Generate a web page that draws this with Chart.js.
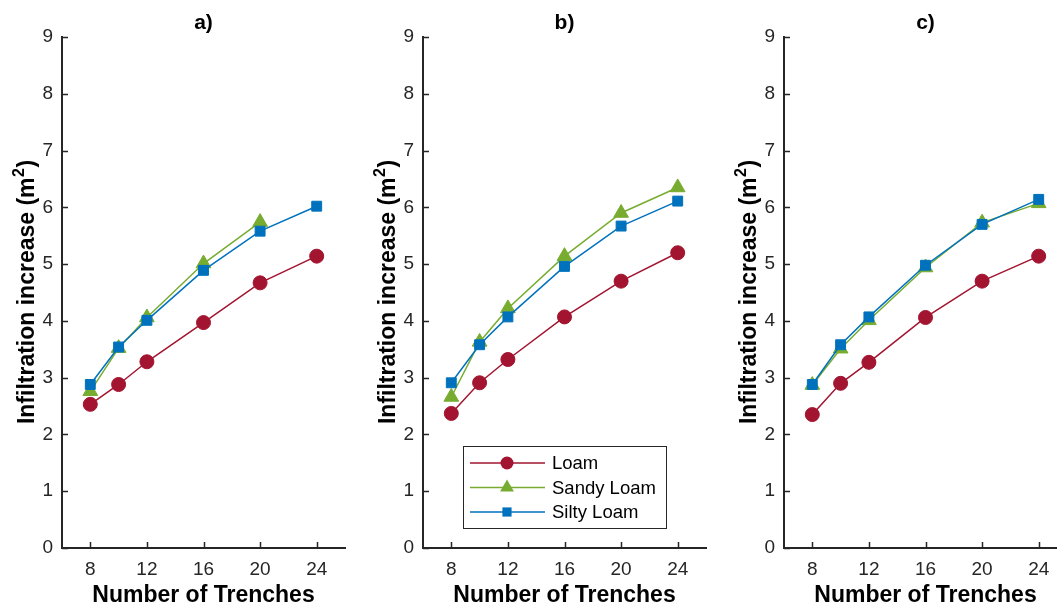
<!DOCTYPE html>
<html>
<head>
<meta charset="utf-8">
<script src="https://cdn.jsdelivr.net/npm/chart.js@4.4.1/dist/chart.umd.min.js"></script>
<style>
html, body { margin: 0; padding: 0; background: #fff; overflow: hidden; width: 1057px; height: 609px; position: relative; }
canvas { position: absolute; top: 0; }
</style>
</head>
<body>
<canvas id="panelA" width="362" height="609" style="left:0px"></canvas>
<canvas id="panelB" width="362" height="609" style="left:361px"></canvas>
<canvas id="panelC" width="362" height="609" style="left:722px"></canvas>
<script>
// number of trenches (x) and tick marks
var trenches = [8, 10, 12, 16, 20, 24];
var xTicks = [8, 12, 16, 20, 24];

// panel a)
var loamA  = [2.53, 2.88, 3.28, 3.97, 4.67, 5.14];
var sandyA = [2.76, 3.52, 4.06, 5.01, 5.74, null];
var siltyA = [2.88, 3.54, 4.01, 4.89, 5.58, 6.02];

// panel b)
var loamB  = [2.37, 2.91, 3.32, 4.07, 4.70, 5.20];
var sandyB = [2.66, 3.63, 4.22, 5.14, 5.90, 6.35];
var siltyB = [2.91, 3.58, 4.07, 4.96, 5.67, 6.11];

// panel c)
var loamC  = [2.35, 2.90, 3.27, 4.06, 4.70, 5.14];
var sandyC = [2.87, 3.51, 4.01, 4.94, 5.73, 6.07];
var siltyC = [2.88, 3.58, 4.07, 4.98, 5.70, 6.14];

var FONT = "'Liberation Sans', Arial, Helvetica, sans-serif";
var AXIS = '#262626';
var LOAM = '#A2142F', SANDY = '#77AC30', SILTY = '#0072BD';

function toPoints(values) {
	var pts = [];
	for (var i = 0; i < trenches.length; i++) {
		if (values[i] !== null) pts.push({x: trenches[i], y: values[i]});
	}
	return pts;
}

function makeDatasets(loam, sandy, silty) {
	return [{
		label: 'Loam',
		data: toPoints(loam),
		borderColor: LOAM, backgroundColor: LOAM,
		borderWidth: 1.5, pointStyle: 'circle', pointRadius: 7,
		pointBorderWidth: 1, order: 2
	}, {
		label: 'Sandy Loam',
		data: toPoints(sandy),
		borderColor: SANDY, backgroundColor: SANDY,
		borderWidth: 1.5, pointStyle: 'triangle', pointRadius: 8.5,
		pointBorderWidth: 1, order: 1
	}, {
		label: 'Silty Loam',
		data: toPoints(silty),
		borderColor: SILTY, backgroundColor: SILTY,
		borderWidth: 1.5, pointStyle: 'rect', pointRadius: 7,
		pointBorderWidth: 1, order: 0
	}];
}

function drawMarker(ctx, style, x, y, r) {
	ctx.beginPath();
	if (style === 'circle') {
		ctx.arc(x, y, r, 0, Math.PI * 2);
	} else if (style === 'triangle') {
		ctx.moveTo(x, y - r);
		ctx.lineTo(x + r * 0.866, y + r / 2);
		ctx.lineTo(x - r * 0.866, y + r / 2);
		ctx.closePath();
	} else {
		var s = r * Math.SQRT1_2;
		ctx.rect(x - s, y - s, 2 * s, 2 * s);
	}
	ctx.fill();
}

// inward ticks, panel title and y label with superscript
var panelDecor = {
	id: 'panelDecor',
	afterDraw: function(chart, args, opts) {
		var ctx = chart.ctx, area = chart.chartArea;
		var xs = chart.scales.x, ys = chart.scales.y;
		ctx.save();
		ctx.strokeStyle = AXIS;
		ctx.lineWidth = 1.5;
		ctx.beginPath();
		xs.ticks.forEach(function(t) {
			var px = Math.round(xs.getPixelForValue(t.value)) + 0.5;
			ctx.moveTo(px, area.bottom);
			ctx.lineTo(px, area.bottom - 6);
		});
		ys.ticks.forEach(function(t) {
			var py = Math.round(ys.getPixelForValue(t.value)) + 0.5;
			ctx.moveTo(area.left, py);
			ctx.lineTo(area.left + 6, py);
		});
		ctx.stroke();

		ctx.fillStyle = '#000';
		ctx.font = 'bold 21px ' + FONT;
		ctx.textAlign = 'center';
		ctx.textBaseline = 'middle';
		ctx.fillText(opts.title, (area.left + area.right) / 2, 23);

		var main = 'Infiltration increase (m', sup = '2', tail = ')';
		ctx.font = 'bold 23px ' + FONT;
		var w1 = ctx.measureText(main).width, w3 = ctx.measureText(tail).width;
		ctx.font = 'bold 16px ' + FONT;
		var w2 = ctx.measureText(sup).width;
		var x0 = -(w1 + w2 + w3) / 2;
		ctx.translate(34, (area.top + area.bottom) / 2);
		ctx.rotate(-Math.PI / 2);
		ctx.textAlign = 'left';
		ctx.textBaseline = 'alphabetic';
		ctx.font = 'bold 23px ' + FONT;
		ctx.fillText(main, x0, 0);
		ctx.font = 'bold 16px ' + FONT;
		ctx.fillText(sup, x0 + w1 + 0.5, -10);
		ctx.font = 'bold 23px ' + FONT;
		ctx.fillText(tail, x0 + w1 + w2 + 1, 0);
		ctx.restore();
	}
};

// boxed legend inside panel b)
var boxLegend = {
	id: 'boxLegend',
	afterDraw: function(chart, args, opts) {
		if (!opts.show) return;
		var ctx = chart.ctx, area = chart.chartArea;
		var x = area.left + 40, y = 446, w = 203, h = 82;
		ctx.save();
		ctx.fillStyle = '#fff';
		ctx.fillRect(x, y, w, h);
		ctx.strokeStyle = AXIS;
		ctx.lineWidth = 1;
		ctx.strokeRect(x + 0.5, y + 0.5, w, h);
		ctx.font = '18.5px ' + FONT;
		ctx.textAlign = 'left';
		ctx.textBaseline = 'middle';
		var sizes = {circle: 6.5, triangle: 8, rect: 6.5};
		chart.data.datasets.forEach(function(ds, i) {
			var ry = y + 17 + i * 24.5;
			ctx.strokeStyle = ds.borderColor;
			ctx.lineWidth = ds.borderWidth;
			ctx.beginPath();
			ctx.moveTo(x + 7, ry);
			ctx.lineTo(x + 82, ry);
			ctx.stroke();
			ctx.fillStyle = ds.backgroundColor;
			drawMarker(ctx, ds.pointStyle, x + 44, ry, sizes[ds.pointStyle]);
			ctx.fillStyle = '#000';
			ctx.fillText(ds.label, x + 89, ry + 1);
		});
		ctx.restore();
	}
};

function makeChart(id, title, loam, sandy, silty, showLegend) {
	var ctx = document.getElementById(id).getContext('2d');
	return new Chart(ctx, {
		type: 'line',
		data: { datasets: makeDatasets(loam, sandy, silty) },
		plugins: [panelDecor, boxLegend],
		options: {
			responsive: false,
			animation: false,
			layout: { padding: { top: 37, right: 17, left: 0, bottom: 0 } },
			plugins: {
				legend: { display: false },
				tooltip: { enabled: false },
				panelDecor: { title: title },
				boxLegend: { show: showLegend }
			},
			scales: {
				x: {
					type: 'linear',
					min: 6, max: 26,
					afterBuildTicks: function(scale) {
						scale.ticks = xTicks.map(function(v) { return {value: v}; });
					},
					afterFit: function(scale) { scale.height = 61; },
					grid: { drawOnChartArea: false, drawTicks: false },
					border: { display: true, color: AXIS, width: 2 },
					ticks: { color: AXIS, padding: 10, maxRotation: 0, font: { family: FONT, size: 19 } },
					title: {
						display: true, text: 'Number of Trenches', color: '#000',
						font: { family: FONT, size: 23, weight: 'bold' },
						padding: { top: 0, bottom: 0 }
					}
				},
				y: {
					min: 0, max: 9,
					afterFit: function(scale) { scale.width = 62; },
					grid: { drawOnChartArea: false, drawTicks: false },
					border: { display: true, color: AXIS, width: 2 },
					ticks: { stepSize: 1, color: AXIS, padding: 9, font: { family: FONT, size: 19 } }
				}
			}
		}
	});
}

window.onload = function() {
	makeChart('panelA', 'a)', loamA, sandyA, siltyA, false);
	makeChart('panelB', 'b)', loamB, sandyB, siltyB, true);
	makeChart('panelC', 'c)', loamC, sandyC, siltyC, false);
};
</script>
</body>
</html>
